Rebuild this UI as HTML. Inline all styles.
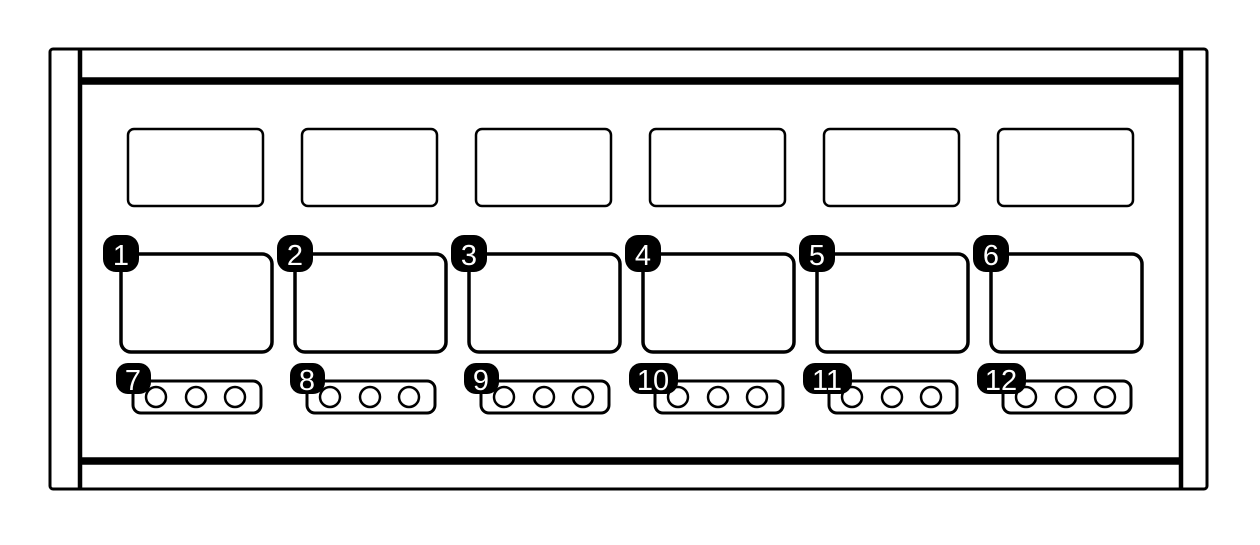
<!DOCTYPE html>
<html><head><meta charset="utf-8"><style>
body{margin:0;background:#fff}
svg text{font-family:"Liberation Sans",sans-serif;fill:#fff;text-anchor:middle}
</style></head><body>
<svg width="1260" height="540" viewBox="0 0 1260 540" xmlns="http://www.w3.org/2000/svg">
<g fill="none" stroke="#000">
<rect x="50" y="49" width="1157" height="440" rx="3" stroke-width="3"/>
<line x1="80" y1="48" x2="80" y2="490" stroke-width="4.5"/>
<line x1="1181" y1="48" x2="1181" y2="490" stroke-width="4.5"/>
<line x1="80" y1="81" x2="1181" y2="81" stroke-width="7.5"/>
<line x1="80" y1="461" x2="1181" y2="461" stroke-width="7.5"/>
</g>
<g id="col">
<rect x="128" y="129" width="135" height="77" rx="6" fill="none" stroke="#000" stroke-width="2.5"/>
<rect x="121" y="254" width="151" height="98" rx="10" fill="none" stroke="#000" stroke-width="3.5"/>
<rect x="133" y="381" width="128" height="32" rx="8" fill="none" stroke="#000" stroke-width="3"/>
<circle cx="156" cy="397" r="10" fill="#fff" stroke="#000" stroke-width="2.5"/>
<circle cx="196" cy="397" r="10" fill="#fff" stroke="#000" stroke-width="2.5"/>
<circle cx="235" cy="397" r="10" fill="#fff" stroke="#000" stroke-width="2.5"/>
</g>
<use href="#col" x="174"/><use href="#col" x="348"/><use href="#col" x="522"/><use href="#col" x="696"/><use href="#col" x="870"/>
<g fill="#000">
<rect x="103" y="235" width="36" height="37" rx="13"/>
<rect x="277" y="235" width="36" height="37" rx="13"/>
<rect x="451" y="235" width="36" height="37" rx="13"/>
<rect x="625" y="235" width="36" height="37" rx="13"/>
<rect x="799" y="235" width="36" height="37" rx="13"/>
<rect x="973" y="235" width="36" height="37" rx="13"/>
<rect x="116" y="363" width="35" height="31" rx="12"/>
<rect x="290" y="363" width="35" height="31" rx="12"/>
<rect x="464" y="363" width="35" height="31" rx="12"/>
<rect x="629" y="363" width="49" height="31" rx="12"/>
<rect x="803" y="363" width="49" height="31" rx="12"/>
<rect x="977" y="363" width="49" height="31" rx="12"/>
</g>
<g font-size="29">
<text x="121" y="265">1</text><text x="295" y="265">2</text><text x="469" y="265">3</text>
<text x="643" y="265">4</text><text x="817" y="265">5</text><text x="991" y="265">6</text>
<text x="133" y="390">7</text><text x="307" y="390">8</text><text x="481" y="390">9</text>
<text x="653" y="390">10</text><text x="827" y="390">11</text><text x="1001" y="390">12</text>
</g>
</svg>
</body></html>
